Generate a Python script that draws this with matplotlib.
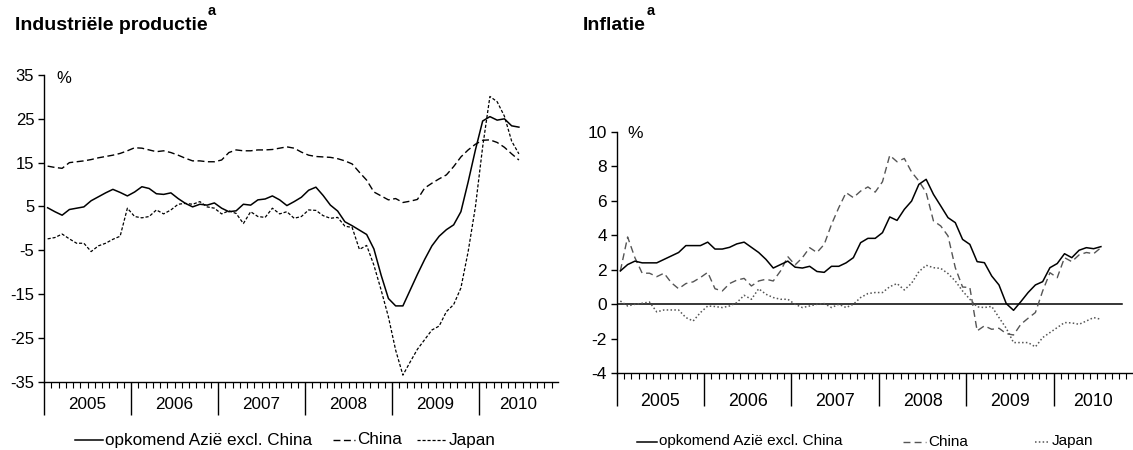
import numpy as np
import matplotlib
matplotlib.use('Agg')
import matplotlib.pyplot as plt
from matplotlib.lines import Line2D

plt.rcParams['font.family'] = ['Liberation Sans', 'DejaVu Sans']
plt.rcParams['axes.unicode_minus'] = False

years = ['2005', '2006', '2007', '2008', '2009', '2010']

# Industriele productie, maandelijks vanaf jan 2005 (% j-o-j)
ip_azie = [4.7, 3.8, 3.0, 4.3, 4.6, 4.9, 6.3, 7.2, 8.1, 8.9, 8.2, 7.4,
           8.3, 9.5, 9.1, 7.9, 7.75, 8.1, 6.8, 5.7, 4.9, 5.5, 5.3, 5.8,
           4.6, 3.8, 4.0, 5.5, 5.3, 6.5, 6.7, 7.4, 6.5, 5.2, 6.1, 7.1,
           8.7, 9.4, 7.5, 5.3, 3.95, 1.5, 0.6, -0.4, -1.4, -4.7, -10.7, -16.0,
           -17.7, -17.7, -14.1, -10.5, -7.1, -4.0, -1.8, -0.3, 0.8, 3.8, 10.6, 17.9,
           24.5, 25.5, 24.7, 25.0, 23.4, 23.1]
ip_china = [14.2, 13.9, 13.7, 15.0, 15.2, 15.4, 15.7, 16.1, 16.4, 16.7, 17.1, 17.7,
            18.4, 18.3, 17.9, 17.5, 17.7, 17.3, 16.7, 16.0, 15.4, 15.4, 15.2, 15.2,
            15.6, 17.3, 17.9, 17.7, 17.7, 17.9, 17.9, 18.0, 18.3, 18.6, 18.3, 17.4,
            16.7, 16.4, 16.3, 16.2, 15.9, 15.4, 14.7, 12.8, 11.0, 8.3, 7.4, 6.5,
            6.8, 5.9, 6.2, 6.6, 9.2, 10.3, 11.3, 12.2, 14.1, 16.3, 17.9, 19.2,
            20.1, 20.2, 19.6, 18.5, 17.0, 15.6]
ip_japan = [-2.4, -2.1, -1.3, -2.4, -3.4, -3.4, -5.3, -4.0, -3.4, -2.5, -1.8, 4.6,
            2.7, 2.4, 2.7, 4.2, 3.3, 4.2, 5.5, 5.7, 5.5, 6.1, 4.9, 4.6,
            3.3, 4.0, 3.4, 1.1, 3.8, 2.7, 2.5, 4.6, 3.3, 3.8, 2.3, 2.7,
            4.2, 4.1, 2.9, 2.3, 2.5, 0.5, 0.2, -4.8, -3.9, -8.4, -14.1, -20.2,
            -27.8, -33.5, -30.5, -27.6, -25.4, -23.2, -22.3, -19.0, -17.4, -13.6, -5.3, 4.9,
            18.6, 30.1, 28.9, 25.6, 19.9, 17.0]

# Inflatie, maandelijks vanaf jan 2005 (% j-o-j)
inf_azie = [1.93, 2.3, 2.5, 2.4, 2.4, 2.4, 2.6, 2.8, 3.0, 3.4, 3.4, 3.4,
            3.6, 3.2, 3.2, 3.3, 3.5, 3.6, 3.3, 3.0, 2.6, 2.1, 2.3, 2.5,
            2.15, 2.1, 2.2, 1.9, 1.85, 2.2, 2.2, 2.4, 2.7, 3.57, 3.82, 3.82,
            4.15, 5.06, 4.86, 5.5, 5.98, 6.95, 7.24, 6.37, 5.7, 5.02, 4.73, 3.76,
            3.47, 2.47, 2.41, 1.64, 1.12, 0.04, -0.35, 0.15, 0.68, 1.12, 1.31, 2.12,
            2.36, 2.93, 2.7, 3.13, 3.28, 3.22, 3.34]
inf_china = [1.93, 3.9, 2.7, 1.8, 1.8, 1.6, 1.8, 1.25, 0.9, 1.2, 1.3, 1.55,
             1.85, 0.9, 0.77, 1.2, 1.4, 1.5, 1.06, 1.35, 1.45, 1.35, 1.93, 2.76,
             2.28, 2.7, 3.28, 3.0, 3.47, 4.63, 5.6, 6.47, 6.18, 6.56, 6.8, 6.5,
             7.1, 8.63, 8.26, 8.45, 7.66, 7.14, 6.47, 4.83, 4.54, 3.96, 2.12, 1.0,
             0.97, -1.54, -1.25, -1.45, -1.39, -1.7, -1.78, -1.16, -0.81, -0.48, 0.77, 1.83,
             1.54, 2.7, 2.47, 2.86, 3.0, 2.93, 3.28]
inf_japan = [0.19, -0.1, 0.0, 0.06, 0.13, -0.44, -0.33, -0.33, -0.33, -0.77, -0.97, -0.48,
             -0.1, -0.13, -0.19, -0.1, 0.1, 0.52, 0.29, 0.9, 0.58, 0.39, 0.29, 0.29,
             0.0, -0.19, -0.1, 0.0, 0.04, -0.19, 0.0, -0.19, 0.0, 0.39, 0.62, 0.68,
             0.68, 1.02, 1.2, 0.83, 1.22, 1.89, 2.26, 2.12, 2.08, 1.78, 1.35, 0.77,
             0.29, -0.15, -0.19, -0.12, -0.77, -1.39, -2.22, -2.22, -2.22, -2.47, -1.93, -1.64,
             -1.35, -1.06, -1.08, -1.16, -0.97, -0.77, -0.87]

W, H = 1133, 450
fig = plt.figure(figsize=(W / 100, H / 100), dpi=100)

ax1 = fig.add_axes([44 / W, 1 - 381.7 / H, 513.7 / W, 306.7 / H])
ax2 = fig.add_axes([616.7 / W, 1 - 373.3 / H, 514.8 / W, 241.6 / H])

solid = dict(color='black', lw=1.1, ls='-')
ip_china_st = dict(color='black', lw=1.0, dashes=(5, 2.5))
ip_japan_st = dict(color='black', lw=0.9, dashes=(2.5, 1.5))
inf_china_st = dict(color='#555555', lw=1.0, dashes=(5, 3))
inf_japan_st = dict(color='#555555', lw=1.1, dashes=(1, 1.5))

x_ip = np.arange(len(ip_azie)) + 0.5
x_inf = np.arange(len(inf_azie)) + 0.5

ax1.plot(x_ip, ip_china, **ip_china_st)
ax1.plot(x_ip, ip_japan, **ip_japan_st)
ax1.plot(x_ip, ip_azie, **solid)

ax2.axhline(0, xmax=69.4 / 70.7, color='black', lw=1.1)
ax2.plot(x_inf, inf_japan, **inf_japan_st)
ax2.plot(x_inf, inf_china, **inf_china_st)
ax2.plot(x_inf, inf_azie, **solid)

ax1.set_xlim(0, 70.85)
ax1.set_ylim(-35, 35)
ax1.set_yticks(np.arange(-35, 36, 10))
ax2.set_xlim(0, 70.7)
ax2.set_ylim(-4, 10)
ax2.set_yticks(np.arange(-4, 11, 2))

for ax, fs, lab_off in [(ax1, 12, 23), (ax2, 12.5, 28)]:
    for s in ['top', 'right']:
        ax.spines[s].set_visible(False)
    ax.spines['left'].set_linewidth(1.0)
    ax.spines['bottom'].set_linewidth(1.0)
    ax.set_xticks(np.arange(0, 61, 12))
    ax.set_xticks(np.arange(0, 71), minor=True)
    ax.set_xticklabels([])
    ax.tick_params(axis='x', which='major', length=24, width=1.0, direction='out')
    ax.tick_params(axis='x', which='minor', length=4.5, width=0.8, direction='out')
    ax.tick_params(axis='y', length=4, width=1.0, labelsize=fs, pad=3)
    xmax = ax.get_xlim()[1]
    h = ax.get_position().height * H
    for i, y in enumerate(years):
        xc = (i * 12 + min(i * 12 + 12, xmax)) / 2
        ax.text(xc, -lab_off / h, y, transform=ax.get_xaxis_transform(),
                ha='center', va='center', fontsize=fs + 0.3)

# titels met superscript
renderer = fig.canvas.get_renderer()
for x0, title in [(15, 'Industriële productie'), (583, 'Inflatie')]:
    t = fig.text(x0 / W, 1 - 29.5 / H, title, fontsize=14, fontweight='bold',
                 va='baseline', ha='left')
    bb = t.get_window_extent(renderer)
    fig.text((bb.x1 + 0.5) / W, 1 - 15 / H, 'a', fontsize=10.5, fontweight='bold',
             va='baseline', ha='left')

fig.text(56 / W, 1 - 83 / H, '%', fontsize=12, va='baseline')
fig.text(627 / W, 1 - 138 / H, '%', fontsize=12.5, va='baseline')


def legend_item(x0, x1, y, st, label, fs):
    fig.add_artist(Line2D([x0 / W, x1 / W], [1 - y / H, 1 - y / H],
                          transform=fig.transFigure, **st))
    fig.text((x1 + 2) / W, 1 - y / H, label, fontsize=fs, va='center', ha='left')


legend_item(75, 103, 440, solid, 'opkomend Azië excl. China', 12.3)
legend_item(333, 355, 440, ip_china_st, 'China', 12.3)
legend_item(417, 447, 440, ip_japan_st, 'Japan', 12.3)

legend_item(637, 657, 441.5, solid, 'opkomend Azië excl. China', 11)
legend_item(903, 926, 441.5, inf_china_st, 'China', 11)
legend_item(1035, 1050, 441.5, inf_japan_st, 'Japan', 11)

fig.savefig('out.png', dpi=100)
